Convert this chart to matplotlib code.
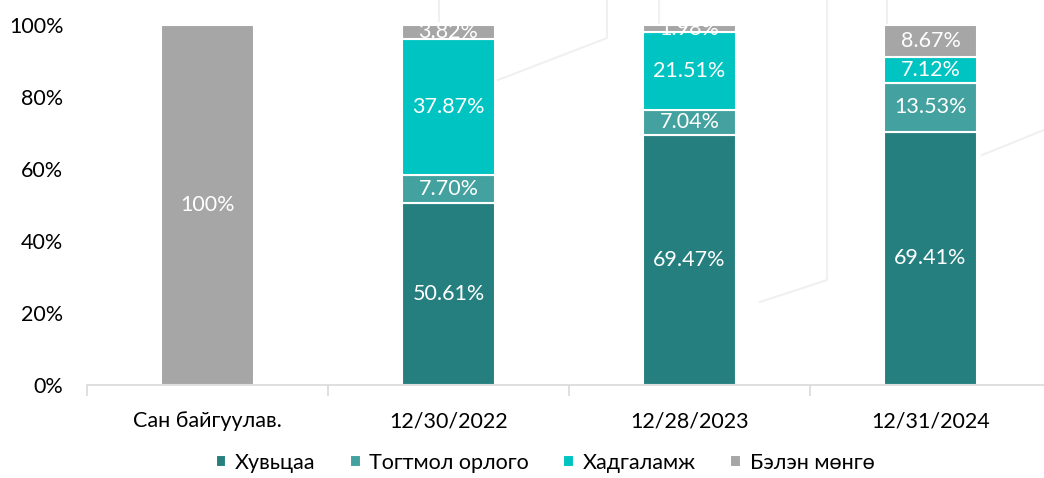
import numpy as np
import matplotlib
matplotlib.use('Agg')
import matplotlib.pyplot as plt
from matplotlib.lines import Line2D

plt.rcParams['font.family'] = ['Lato', 'Open Sans', 'DejaVu Sans']

# data
categories = ['Сан байгуулав.', '12/30/2022', '12/28/2023', '12/31/2024']
series_names = ['Хувьцаа', 'Тогтмол орлого', 'Хадгаламж', 'Бэлэн мөнгө']
stocks = [0.0, 50.61, 69.47, 69.41]
fixed_income = [0.0, 7.70, 7.04, 13.53]
deposits = [0.0, 37.87, 21.51, 7.12]
cash = [100.0, 3.82, 1.98, 8.67]
colors = ['#267F7F', '#43A29F', '#00C4C1', '#A6A6A6']


def draw():
    fig = plt.figure(figsize=(10.44, 4.78), dpi=100)

    # faint decorative background lines (figure coords)
    deco = [
        [(439, 0), (439, 21)],
        [(607, 0), (607, 38), (498, 80)],
        [(659, 0), (659, 23)],
        [(827, 0), (827, 280), (760, 302)],
        [(887, 0), (887, 23)],
        [(1044, 130), (982, 155)],
    ]
    for pts in deco:
        xs = [p[0] / 1044 for p in pts]
        ys = [1 - p[1] / 478 for p in pts]
        fig.add_artist(Line2D(xs, ys, color='#F0F0F0', lw=1.5, zorder=0))

    ax = fig.add_axes([87 / 1044, 1 - 385 / 478, 964 / 1044, 360 / 478])
    ax.patch.set_alpha(0)

    series = [np.array(stocks), np.array(fixed_income), np.array(deposits), np.array(cash)]
    totals = sum(series)
    x = np.arange(len(categories))
    bottom = np.zeros(len(categories))
    for name, vals, col in zip(series_names, series, colors):
        share = vals / totals * 100
        ax.bar(x, share, 0.39, bottom=bottom, color=col, edgecolor='white',
               linewidth=1.5, label=name, zorder=2)
        for xi, v, s, b in zip(x, vals, share, bottom):
            if v > 0:
                txt = '100%' if v == 100 else f'{v:.2f}%'
                ax.text(xi, b + s / 2, txt, ha='center', va='center',
                        color='white', fontsize=15.5, zorder=3, clip_on=True)
        bottom = bottom + share

    ax.set_xlim(-0.5, len(categories) - 0.5)
    ax.set_ylim(0, 100)
    ax.set_yticks(np.arange(0, 101, 20))
    ax.set_yticklabels([f'{v}%' for v in range(0, 101, 20)])
    ax.set_xticks(x)
    ax.set_xticklabels(categories)
    ax.set_xticks(np.arange(-0.5, len(categories), 1), minor=True)
    ax.tick_params(axis='y', length=0, pad=17, labelsize=15.5, labelcolor='#000000')
    ax.tick_params(axis='x', which='major', length=0, pad=19, labelsize=15.5)
    ax.tick_params(axis='x', which='minor', length=8, color='#D9D9D9', width=1.2)
    for side in ['top', 'right', 'left']:
        ax.spines[side].set_visible(False)
    ax.spines['bottom'].set_color('#D9D9D9')
    ax.spines['bottom'].set_linewidth(1.2)

    handles, labels = ax.get_legend_handles_labels()
    fig.legend(handles, labels, loc='lower center', bbox_to_anchor=(0.522, -0.03),
               ncol=4, frameon=False, fontsize=15.5, handlelength=0.5,
               handleheight=0.5, handletextpad=0.4, columnspacing=1.6)
    return fig


if __name__ == '__main__':
    fig = draw()
    fig.savefig('out.png', dpi=100)
